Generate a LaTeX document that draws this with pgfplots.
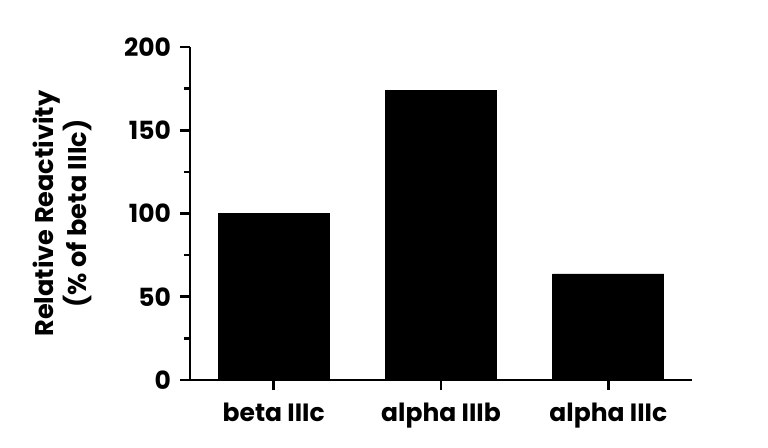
\documentclass[border=0pt]{standalone}
\usepackage{pgfplots}
\pgfplotsset{compat=1.18}
\usepackage{fontspec}
\setmainfont{Poppins}
\begin{document}
\begin{tikzpicture}
\useasboundingbox (-95pt,-33.5pt) rectangle (289pt,190pt);
\begin{axis}[
  name=ax, at={(0,0)}, anchor=south west,
  scale only axis, width=251pt, height=166.5pt,
  axis lines=left, axis line style={line width=1.3pt, -},
  ymin=0, ymax=200, xmin=-0.5, xmax=2.5,
  ytick={0,50,100,150,200},
  minor ytick={25,75,125,175},
  xtick={0,1,2},
  xticklabels={beta IIIc, alpha IIIb, alpha IIIc},
  tick align=outside,
  major tick length=5pt, minor tick length=3pt,
  every tick/.style={black, line width=1.3pt},
  tick label style={font=\fontsize{12.5}{14}\selectfont\bfseries},
  /pgf/number format/assume math mode=true,
  yticklabel style={xshift=-1pt},
  xticklabel style={yshift=-3pt},
  ylabel={Relative Reactivity\\(\% of beta IIIc)},
  ylabel style={font=\fontsize{12.8}{16.5}\selectfont\bfseries, align=center, at={(axis description cs:-0.255,0.5)}, anchor=center},
  clip=false,
]
\addplot[ybar, bar width=55.5pt, fill=black, draw=black] coordinates {(0,100) (1,174) (2,63.7)};
\end{axis}
\end{tikzpicture}
\end{document}
